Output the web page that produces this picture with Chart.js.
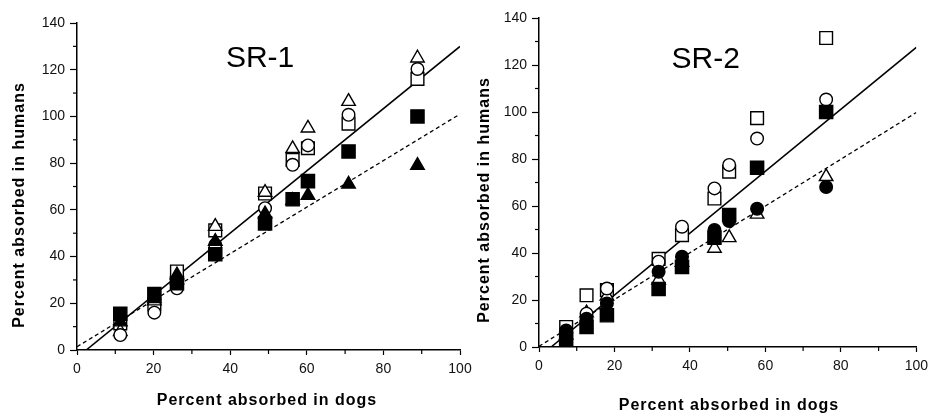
<!DOCTYPE html>
<html>
<head>
<meta charset="utf-8">
<script src="https://cdn.jsdelivr.net/npm/chart.js@4"></script>
<style>
  html, body { margin: 0; padding: 0; background: #fff; }
  .panel { position: absolute; top: 0; height: 417px; }
  #p1 { left: 0; width: 480px; }
  #p2 { left: 467px; width: 467px; }
</style>
</head>
<body>
<div class="panel" id="p1"><canvas id="sr1"></canvas></div>
<div class="panel" id="p2"><canvas id="sr2"></canvas></div>
<script>
// SR-1 panel: percent absorbed in dogs (x) vs humans (y)
const sr1Dogs = [11.3, 20.2, 26.1, 36.1, 49.1, 56.3, 60.3, 70.9, 88.9];
const sr1OpenSquare = [11.4, 19.5, 33.6, 51.2, 67.0, 81.4, 86.4, 96.9, 116.1];
const sr1OpenCircle = [6.4, 16.0, 26.4, 45.0, 60.7, 79.3, 87.6, 100.7, 120.3];
const sr1OpenTriangle = [7.9, 21.0, 30.0, 52.9, 67.5, 86.2, 95.0, 106.4, 125.0];
const sr1FilledSquare = [15.5, 24.0, 28.6, 41.0, 54.2, 64.5, 72.3, 85.0, 100.0];
const sr1FilledTriangle = [12.0, 22.0, 32.1, 46.5, 58.3, 64.0, 66.2, 71.0, 79.0];
const sr1FitSolid = [{ x: 2.4, y: 0 }, { x: 100, y: 130 }];
const sr1FitDashed = [{ x: 0, y: 1.4 }, { x: 100, y: 101 }];

// SR-2 panel
const sr2Dogs = [7.2, 12.6, 18.0, 31.7, 37.9, 46.5, 50.4, 57.8, 76.1];
const sr2OpenSquare = [8.5, 22.0, 24.2, 37.5, 47.6, 63.2, 74.6, 97.4, 131.5];
const sr2OpenCircle = [7.0, 14.2, 24.9, 36.3, 51.2, 67.5, 77.5, 88.7, 105.3];
const sr2OpenTriangle = [5.0, 14.5, 21.6, 28.5, 36.0, 42.0, 46.5, 56.5, 72.5];
const sr2FilledSquare = [3.5, 8.5, 13.5, 24.7, 34.1, 46.5, 56.2, 76.3, 100.0];
const sr2FilledCircle = [6.5, 12.0, 18.5, 32.0, 38.4, 49.8, 53.6, 58.8, 68.1];
const sr2FitSolid = [{ x: 3.2, y: 0 }, { x: 100, y: 127.5 }];
const sr2FitDashed = [{ x: 0, y: 0.3 }, { x: 100, y: 99.8 }];

const xTicks = [0, 20, 40, 60, 80, 100];
const yTicks = [0, 20, 40, 60, 80, 100, 120, 140];

const FONT = "'Liberation Sans', Arial, Helvetica, sans-serif";

function pts(xs, ys) {
  return xs.map((x, i) => ({ x: x, y: ys[i] }));
}

function marker(label, data, style, filled, radius, order) {
  return {
    label: label,
    data: data,
    pointStyle: style,
    pointRadius: radius,
    pointHoverRadius: radius,
    pointBorderWidth: 1.4,
    borderColor: "#000",
    pointBorderColor: "#000",
    pointBackgroundColor: filled ? "#000" : "#fff",
    showLine: false,
    order: order,
  };
}

function fitLine(label, data, dashed) {
  return {
    type: "line",
    label: label,
    data: data,
    showLine: true,
    borderColor: "#000",
    borderWidth: dashed ? 1.3 : 1.6,
    borderDash: dashed ? [4, 3] : [],
    pointRadius: 0,
    fill: false,
    order: 10,
  };
}

// minor ticks, panel label and axis titles
const decorations = {
  id: "decorations",
  afterDraw(chart, args, opts) {
    const ctx = chart.ctx;
    const xs = chart.scales.x, ys = chart.scales.y;
    const area = chart.chartArea;
    ctx.save();
    ctx.strokeStyle = "#000";
    ctx.lineWidth = 1.2;
    for (let v = 10; v < 140; v += 20) {
      const py = ys.getPixelForValue(v);
      ctx.beginPath();
      ctx.moveTo(area.left - 4, py);
      ctx.lineTo(area.left, py);
      ctx.stroke();
    }
    for (let v = 10; v < 100; v += 20) {
      const px = xs.getPixelForValue(v);
      ctx.beginPath();
      ctx.moveTo(px, area.bottom);
      ctx.lineTo(px, area.bottom + 4);
      ctx.stroke();
    }

    ctx.fillStyle = "#000";
    ctx.font = "30px " + FONT;
    ctx.textAlign = "center";
    ctx.textBaseline = "alphabetic";
    ctx.fillText(opts.label, xs.getPixelForValue(opts.labelAt[0]), ys.getPixelForValue(opts.labelAt[1]));

    ctx.font = "bold 16px " + FONT;
    ctx.letterSpacing = "1px";
    ctx.fillText("Percent absorbed in dogs", opts.xTitle[0], opts.xTitle[1]);
    ctx.translate(opts.yTitle[0], opts.yTitle[1]);
    ctx.rotate(-Math.PI / 2);
    ctx.fillText("Percent absorbed in humans", 0, 0);
    ctx.restore();
  },
};

function makeChart(id, cfg) {
  return new Chart(document.getElementById(id), {
    type: "scatter",
    data: {
      datasets: [
        marker("Filled squares", pts(cfg.dogs, cfg.filledSquare), "rect", true, 9.3, 1),
        marker(cfg.filledOtherLabel, pts(cfg.dogs, cfg.filledOther), cfg.filledOtherStyle, true, cfg.filledOtherStyle === "circle" ? 6.3 : 7.8, 2),
        marker("Open circles", pts(cfg.dogs, cfg.openCircle), "circle", false, 6.3, 3),
        marker("Open triangles", pts(cfg.dogs, cfg.openTriangle), "triangle", false, 7.8, 4),
        marker("Open squares", pts(cfg.dogs, cfg.openSquare), "rect", false, 9.0, 5),
        fitLine("Solid fit", cfg.fitSolid, false),
        fitLine("Dashed fit", cfg.fitDashed, true),
      ],
    },
    options: {
      responsive: true,
      maintainAspectRatio: false,
      animation: false,
      events: [],
      layout: { padding: cfg.padding },
      plugins: {
        legend: { display: false },
        tooltip: { enabled: false },
        decorations: { label: cfg.label, labelAt: cfg.labelAt, xTitle: cfg.xTitle, yTitle: cfg.yTitle },
      },
      scales: {
        x: {
          type: "linear",
          min: 0,
          max: 100,
          afterFit: (s) => { s.height = cfg.xHeight; },
          afterBuildTicks: (s) => { s.ticks = xTicks.map((v) => ({ value: v })); },
          border: { display: true, color: "#000", width: 1.5 },
          grid: { drawOnChartArea: false, drawTicks: true, tickLength: 5, color: "#000", tickWidth: 1.2 },
          ticks: { color: "#111", padding: 6, font: { family: FONT, size: 14 }, maxRotation: 0 },
        },
        y: {
          type: "linear",
          min: 0,
          max: 140,
          afterFit: (s) => { s.width = cfg.yWidth; },
          afterBuildTicks: (s) => { s.ticks = yTicks.map((v) => ({ value: v })); },
          border: { display: true, color: "#000", width: 1.5 },
          grid: { drawOnChartArea: false, drawTicks: true, tickLength: 7, color: "#000", tickWidth: 1.2 },
          ticks: { color: "#111", padding: 5, font: { family: FONT, size: 14 } },
        },
      },
    },
    plugins: [decorations],
  });
}

makeChart("sr1", {
  label: "SR-1",
  labelAt: [47.8, 121],
  dogs: sr1Dogs,
  openSquare: sr1OpenSquare,
  openCircle: sr1OpenCircle,
  openTriangle: sr1OpenTriangle,
  filledSquare: sr1FilledSquare,
  filledOther: sr1FilledTriangle,
  filledOtherLabel: "Filled triangles",
  filledOtherStyle: "triangle",
  fitSolid: sr1FitSolid,
  fitDashed: sr1FitDashed,
  padding: { left: 0, right: 20, top: 23, bottom: 0 },
  yWidth: 77,
  xHeight: 67,
  xTitle: [267, 405],
  yTitle: [24, 205],
});

makeChart("sr2", {
  label: "SR-2",
  labelAt: [44.2, 118.8],
  dogs: sr2Dogs,
  openSquare: sr2OpenSquare,
  openCircle: sr2OpenCircle,
  openTriangle: sr2OpenTriangle,
  filledSquare: sr2FilledSquare,
  filledOther: sr2FilledCircle,
  filledOtherLabel: "Filled circles",
  filledOtherStyle: "circle",
  fitSolid: sr2FitSolid,
  fitDashed: sr2FitDashed,
  padding: { left: 0, right: 13, top: 18, bottom: 0 },
  yWidth: 72,
  xHeight: 70,
  xTitle: [262, 410],
  yTitle: [22, 200],
});
</script>
</body>
</html>
